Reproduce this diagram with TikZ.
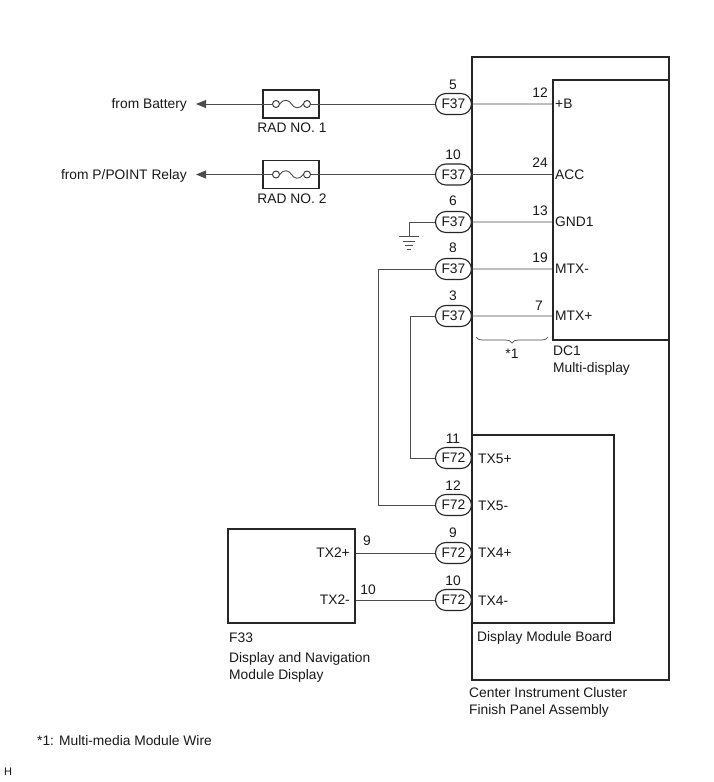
\documentclass[tikz,border=0pt]{standalone}
\usepackage{fontspec}
\setmainfont{Liberation Sans}
\usepackage{tikz}
\usetikzlibrary{arrows.meta,shapes.misc,decorations.pathreplacing}
\tikzset{
  wire/.style={draw=black!70,line width=0.9pt},
  boxnd/.style={draw=black!85,line width=1.6pt,inner sep=0pt},
  pin/.style={draw=black!85,line width=1.1pt,fill=white,rounded rectangle,inner sep=0pt,minimum width=36pt,minimum height=21pt,txt},
  fusept/.style={draw=black!80,line width=0.9pt,fill=white,circle,inner sep=0pt,minimum size=7pt},
  txt/.style={font=\fontsize{13.8}{16}\selectfont,text=black!90,inner sep=0pt,text height=9.9pt,text depth=0pt},
  para/.style={font=\fontsize{13.8}{17}\selectfont,text=black!90,inner sep=0pt,align=left,anchor=north west},
}
\begin{document}
\begin{tikzpicture}[x=1pt,y=-1pt]
  \useasboundingbox[fill=white] (0,0) rectangle (713,782);
  \node[boxnd,minimum width=197pt,minimum height=623pt] (panel) at (570.5,368.5) {};
  \node[boxnd,minimum width=116pt,minimum height=260pt] (dc1) at (611,210) {};
  \node[boxnd,minimum width=142pt,minimum height=188pt] (board) at (543,529) {};
  \node[boxnd,minimum width=127pt,minimum height=94pt] (f33) at (291.5,576) {};
  \node[boxnd,minimum width=56pt,minimum height=28pt] (fuseA) at (291,104) {};
  \node[boxnd,minimum width=56pt,minimum height=28pt] (fuseB) at (291,174.5) {};

  \node[fusept] (fuseAl) at (276,104) {};
  \node[fusept] (fuseAr) at (307,104) {};
  \node[fusept] (fuseBl) at (276,174.5) {};
  \node[fusept] (fuseBr) at (307,174.5) {};
  \draw[wire] (fuseAl.east) .. controls (284,98) and (289,100) .. (291.5,104) .. controls (294,108) and (299,110) .. (fuseAr.west);
  \draw[wire] (fuseBl.east) .. controls (284,168.5) and (289,170.5) .. (291.5,174.5) .. controls (294,178.5) and (299,180.5) .. (fuseBr.west);

  \node[pin,anchor=east] (f37a) at (472,104) {F37};
  \node[pin,anchor=east] (f37b) at (472,174.5) {F37};
  \node[pin,anchor=east] (f37c) at (472,222) {F37};
  \node[pin,anchor=east] (f37d) at (472,269) {F37};
  \node[pin,anchor=east] (f37e) at (472,316) {F37};
  \node[pin,anchor=east] (f72a) at (472,458) {F72};
  \node[pin,anchor=east] (f72b) at (472,505) {F72};
  \node[pin,anchor=east] (f72c) at (472,553) {F72};
  \node[pin,anchor=east] (f72d) at (472,600) {F72};

  \node[txt,anchor=east] (battery) at (187,104) {from Battery};
  \node[txt,anchor=east] (relay) at (187,174.5) {from P/POINT Relay};
  \node[txt] (radA) at (292,128) {RAD NO. 1};
  \node[txt] (radB) at (292,199) {RAD NO. 2};

  \draw[wire,-{Triangle[length=10pt,width=8pt]},shorten >=9pt] (fuseAl) -- (battery.east);
  \draw[wire,-{Triangle[length=10pt,width=8pt]},shorten >=9pt] (fuseBl) -- (relay.east);
  \draw[wire] (fuseAr) -- (f37a);
  \draw[wire] (fuseBr) -- (f37b);

  \draw[wire] (f37a) -- (f37a -| dc1.west);
  \draw[wire] (f37b) -- (f37b -| dc1.west);
  \draw[wire] (f37c) -- (f37c -| dc1.west);
  \draw[wire] (f37d) -- (f37d -| dc1.west);
  \draw[wire] (f37e) -- (f37e -| dc1.west);

  \coordinate (gnd) at (409,236);
  \draw[wire] (f37c) -| (gnd);
  \draw[wire] (399,236) -- (419,236);
  \draw[wire] (403,241) -- (415,241);
  \draw[wire] (405,245) -- (413,245);
  \draw[wire] (407,249) -- (411,249);

  \coordinate (loopA) at (378,0);
  \coordinate (loopB) at (410,0);
  \draw[wire] (f37d) -- (f37d -| loopA) -- (f72b -| loopA) -- (f72b);
  \draw[wire] (f37e) -- (f37e -| loopB) -- (f72a -| loopB) -- (f72a);
  \draw[wire] (f33.east |- f72c) -- (f72c);
  \draw[wire] (f33.east |- f72d) -- (f72d);

  \node[txt] at (453,85) {5};
  \node[txt] at (453,155) {10};
  \node[txt] at (453,201) {6};
  \node[txt] at (453,248) {8};
  \node[txt] at (453,296) {3};
  \node[txt] at (453,439) {11};
  \node[txt] at (453,486) {12};
  \node[txt] at (453,533) {9};
  \node[txt] at (453,581) {10};
  \node[txt] at (540,93) {12};
  \node[txt] at (540,163) {24};
  \node[txt] at (540,211) {13};
  \node[txt] at (540,258) {19};
  \node[txt] at (539,306) {7};
  \node[txt] at (367,541) {9};
  \node[txt] at (368,590) {10};

  \node[txt,anchor=west] (pinB) at (555,104) {+B};
  \node[txt,anchor=west] (pinACC) at (555,174.5) {ACC};
  \node[txt,anchor=west] (pinGND) at (555,222) {GND1};
  \node[txt,anchor=west] (pinMn) at (555,269) {MTX-};
  \node[txt,anchor=west] (pinMp) at (555,316) {MTX+};
  \node[txt,anchor=west] (pinTVp) at (478,459) {TX5+};
  \node[txt,anchor=west] (pinTVn) at (478,506) {TX5-};
  \node[txt,anchor=west] (pinTIVp) at (478,553) {TX4+};
  \node[txt,anchor=west] (pinTIVn) at (478,601) {TX4-};
  \node[txt,anchor=east] (pinTIIp) at (350,553) {TX2+};
  \node[txt,anchor=east] (pinTIIn) at (350,600) {TX2-};

  \coordinate (braceL) at (476,337);
  \coordinate (braceR) at (548,337);
  \draw[wire,line width=0.7pt,decorate,decoration={brace,amplitude=6pt}] (braceR) -- (braceL);
  \node[txt] (starA) at (512,354) {*1};

  \node[para] (dc1txt) at (553,346) {DC1\\Multi-display};
  \node[para] (boardtxt) at (477,631) {Display Module Board};
  \node[para] (f33txt) at (229,633) {F33\\[3pt]Display and Navigation\\Module Display};
  \node[para] (paneltxt) at (469,687) {Center Instrument Cluster\\Finish Panel Assembly};
  \node[para] (notetxt) at (37,735) {*1: Multi-media Module Wire};
  \node[para,font=\fontsize{11}{13}\selectfont] (htxt) at (4,768) {H};
\end{tikzpicture}
\end{document}
